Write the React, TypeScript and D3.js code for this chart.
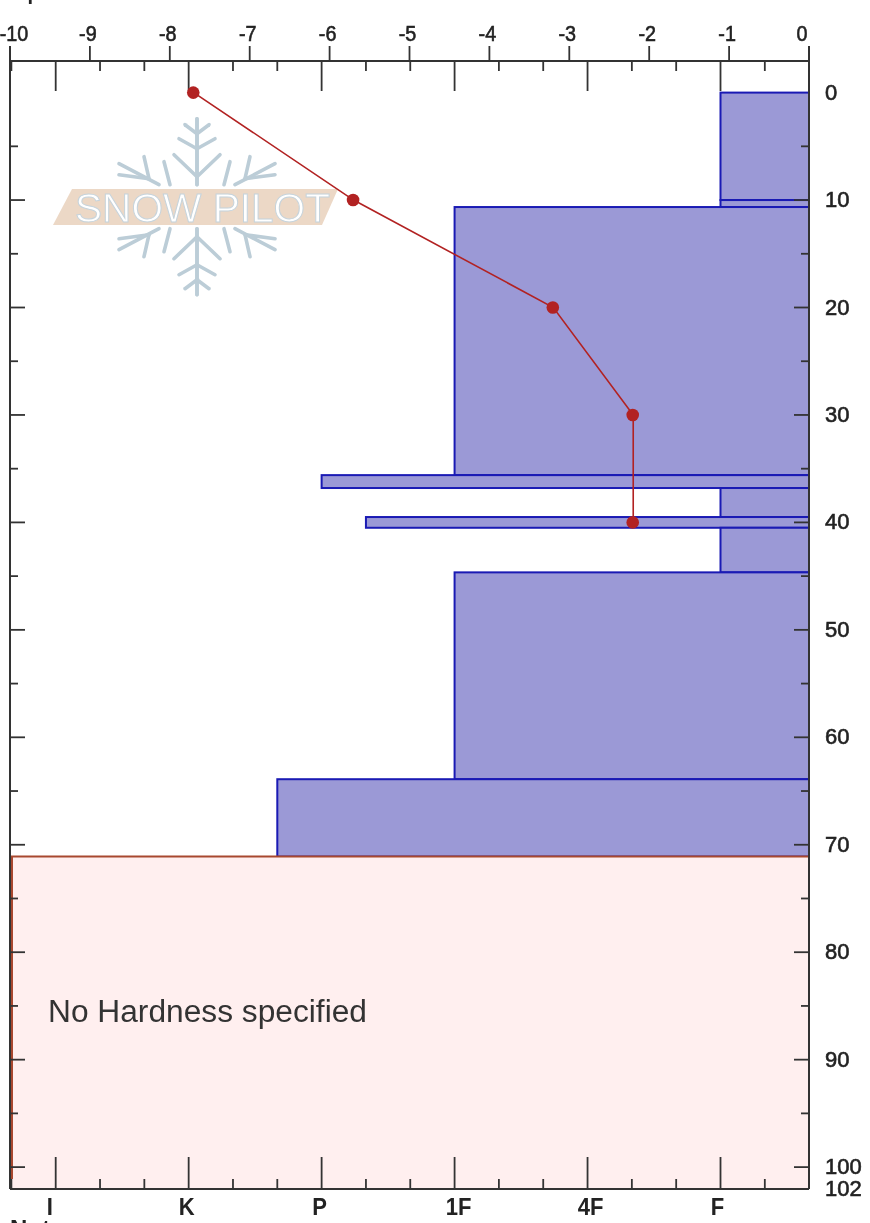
import React from "react";
import * as d3 from "d3";

const W = 870, H = 1223;
const LEFT = 10, RIGHT = 809, TOP = 61, BOTTOM = 1189;

const tempTicks = [-10, -9, -8, -7, -6, -5, -4, -3, -2, -1, 0];
const hardnessLabels = ["I", "K", "P", "1F", "4F", "F"];
const hardnessMinor = [-1 / 3, 1 / 3, 2 / 3, 4 / 3, 5 / 3, 7 / 3, 8 / 3, 10 / 3, 11 / 3, 13 / 3, 14 / 3, 16 / 3];
const depthLabels = [0, 10, 20, 30, 40, 50, 60, 70, 80, 90, 100, 102];
const depthMajor = [10, 20, 30, 40, 50, 60, 70, 80, 90, 100];
const depthMinor = [5, 15, 25, 35, 45, 55, 65, 75, 85, 95];

const layerTop = [0, 10, 10.65, 35.6, 36.8, 39.5, 40.5, 44.65, 63.9];
const layerBottom = [10, 10.65, 35.6, 36.8, 39.5, 40.5, 44.65, 63.9, 71.1];
const layerHardness = [5, 5, 3, 2, 5, 7 / 3, 5, 3, 5 / 3];

const noHardnessTop = 71.1;
const noHardnessBottom = 102;

const profileDepth = [0, 10, 20, 30, 40];
const profileTemp = [-7.7, -5.7, -3.2, -2.2, -2.2];

const x = d3.scaleLinear().domain([-10, 0]).range([LEFT, RIGHT]);
const h = d3.scaleLinear().domain([0, 5]).range([55.7, 720.5]);
const y = d3.scaleLinear().domain([0, 102]).range([92.6, 1188.6]);

const AXIS = "#333333";
const FONT = "'Liberation Sans', Arial, sans-serif";

const flakeSegments = [
  [0, -88, 0, -22],
  [0, -73, -12, -82],
  [0, -58, -18, -68],
  [0, -30, -23, -52],
  [-38, -22, -78, -43],
  [-48, -28, -53, -50],
  [-48, -28, -78, -32],
  [-27, -22, -33, -45],
];

function Logo() {
  const cx = 197, cy = 206.7;
  const mirrors = [[1, 1], [-1, 1], [1, -1], [-1, -1]];
  return (
    <g>
      {mirrors.map(([sx, sy], m) => (
        <g key={m} transform={`translate(${cx},${cy}) scale(${sx},${sy})`}>
          {flakeSegments.map((s, i) => (
            <line key={i} x1={s[0]} y1={s[1]} x2={s[2]} y2={s[3]} stroke="#bccdd7" strokeWidth={3.6} strokeLinecap="round" />
          ))}
        </g>
      ))}
      <polygon points="72,189 338,189 322,225 53,225" fill="#ecd8c6" />
      <text
        x={75}
        y={222}
        fontFamily={FONT}
        fontSize={41}
        textLength={255}
        lengthAdjust="spacingAndGlyphs"
        fill="#ffffff"
        stroke="#c6d3db"
        strokeWidth={1}
      >
        SNOW PILOT
      </text>
    </g>
  );
}

function tempLabelX(t: number) {
  if (t === -10) return 14;
  if (t === 0) return 802;
  return x(t) - 2;
}

const hardnessLabelShift = [-6, -2, -2, 4, 3, -3];

export default function App() {
  const line = d3
    .line<number>()
    .x((_, i) => x(profileTemp[i]))
    .y((d) => y(d));

  return (
    <svg
      width={W}
      height={H}
      viewBox={`0 0 ${W} ${H}`}
      style={{ position: "fixed", left: 0, top: 0, display: "block", background: "#fff", filter: "blur(0.45px)" }}
    >
      <Logo />

      {layerTop.map((t, i) => (
        <rect
          key={i}
          x={h(layerHardness[i])}
          y={y(t)}
          width={RIGHT - h(layerHardness[i])}
          height={y(layerBottom[i]) - y(t)}
          fill="#9b99d6"
          stroke="#1a1ab4"
          strokeWidth={2}
        />
      ))}

      <rect
        x={LEFT + 1}
        y={y(noHardnessTop)}
        width={RIGHT - LEFT - 1}
        height={y(noHardnessBottom) - y(noHardnessTop)}
        fill="#ffefef"
      />
      <line x1={LEFT} x2={RIGHT} y1={y(noHardnessTop)} y2={y(noHardnessTop)} stroke="#a8482f" strokeWidth={2} />

      {/* frame */}
      <line x1={LEFT} x2={RIGHT} y1={TOP} y2={TOP} stroke={AXIS} strokeWidth={2} />
      <line x1={LEFT} x2={RIGHT} y1={BOTTOM} y2={BOTTOM} stroke={AXIS} strokeWidth={2} />
      <line x1={LEFT} x2={LEFT} y1={46} y2={BOTTOM} stroke={AXIS} strokeWidth={2} />
      <line x1={RIGHT} x2={RIGHT} y1={46} y2={BOTTOM} stroke={AXIS} strokeWidth={2} />
      <line x1={LEFT + 2} x2={LEFT + 2} y1={y(noHardnessTop)} y2={1179} stroke="#a8482f" strokeWidth={2} />

      {/* temperature axis */}
      {tempTicks.map((t) => (
        <g key={t}>
          <line x1={x(t)} x2={x(t)} y1={46} y2={TOP} stroke={AXIS} strokeWidth={1.8} />
          <text
            textAnchor="middle"
            fontFamily={FONT}
            fontSize={22}
            fill="#222"
            stroke="#222"
            strokeWidth={0.6}
            transform={`translate(${tempLabelX(t)},41) scale(0.9,1)`}
          >
            {t}
          </text>
        </g>
      ))}

      {/* hardness ticks */}
      {hardnessLabels.map((l, i) => (
        <g key={l}>
          <line x1={h(i)} x2={h(i)} y1={TOP} y2={91} stroke={AXIS} strokeWidth={1.8} />
          <line x1={h(i)} x2={h(i)} y1={1157} y2={BOTTOM} stroke={AXIS} strokeWidth={1.8} />
          <text
            textAnchor="middle"
            fontFamily={FONT}
            fontSize={24}
            fontWeight={700}
            fill="#222"
            transform={`translate(${h(i) + hardnessLabelShift[i]},1215) scale(0.92,1)`}
          >
            {l}
          </text>
        </g>
      ))}
      {hardnessMinor.map((v) => (
        <g key={v}>
          <line x1={h(v)} x2={h(v)} y1={TOP} y2={71} stroke={AXIS} strokeWidth={1.8} />
          <line x1={h(v)} x2={h(v)} y1={1179} y2={BOTTOM} stroke={AXIS} strokeWidth={1.8} />
        </g>
      ))}

      {/* depth ticks */}
      {depthMajor.map((d) => (
        <g key={d}>
          <line x1={LEFT} x2={LEFT + 15} y1={y(d)} y2={y(d)} stroke={AXIS} strokeWidth={1.8} />
          <line x1={RIGHT - 15} x2={RIGHT} y1={y(d)} y2={y(d)} stroke={AXIS} strokeWidth={1.8} />
        </g>
      ))}
      {depthMinor.map((d) => (
        <g key={d}>
          <line x1={LEFT} x2={LEFT + 8} y1={y(d)} y2={y(d)} stroke={AXIS} strokeWidth={1.8} />
          <line x1={RIGHT - 8} x2={RIGHT} y1={y(d)} y2={y(d)} stroke={AXIS} strokeWidth={1.8} />
        </g>
      ))}
      {depthLabels.map((d) => (
        <text key={d} x={825} y={y(d) + 7} fontFamily={FONT} fontSize={22} stroke="#222" strokeWidth={0.6} fill="#222">
          {d}
        </text>
      ))}

      {/* temperature profile */}
      <path d={line(profileDepth) as string} fill="none" stroke="#b22222" strokeWidth={1.6} />
      {profileDepth.map((d, i) => (
        <circle key={d} cx={x(profileTemp[i]) - 0.5} cy={y(d)} r={6.3} fill="#b22222" />
      ))}

      <text x={48} y={1022} fontFamily={FONT} fontSize={31} textLength={319} lengthAdjust="spacingAndGlyphs" fill="#333">
        No Hardness specified
      </text>

      {/* titles cut off by the picture's edges */}
      <text x={2} y={0} fontFamily={FONT} fontSize={20} fontWeight={700} fill="#222">
        Depth
      </text>
      <text x={10} y={1237} fontFamily={FONT} fontSize={24} fontWeight={700} fill="#222">
        Notes
      </text>
    </svg>
  );
}
